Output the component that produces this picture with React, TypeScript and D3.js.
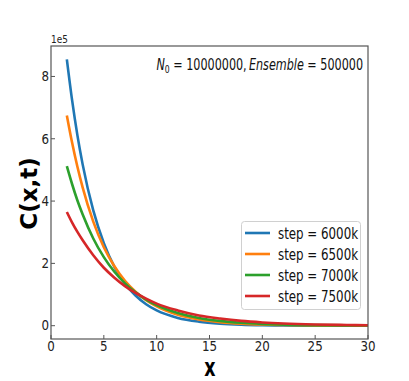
import * as d3 from 'd3';
import React, { useEffect, useRef } from 'react';

// x positions of the sampled points
const xs = [1.5, 2, 2.5, 3, 4, 5, 6, 7, 8, 9, 10, 12, 14, 16, 18, 20, 22, 25, 28, 30];

// C(x,t) values, in units of 1e5
const step6000k = [8.55, 7.23, 6.11, 5.17, 3.70, 2.65, 1.89, 1.35, 0.97, 0.69, 0.49, 0.25, 0.13, 0.067, 0.034, 0.017, 0.009, 0.003, 0.001, 0.0005];
const step6500k = [6.75, 5.87, 5.10, 4.43, 3.34, 2.52, 1.91, 1.44, 1.09, 0.82, 0.62, 0.35, 0.20, 0.114, 0.065, 0.037, 0.021, 0.009, 0.004, 0.002];
const step7000k = [5.12, 4.54, 4.02, 3.57, 2.80, 2.20, 1.73, 1.36, 1.07, 0.84, 0.66, 0.41, 0.25, 0.156, 0.096, 0.059, 0.036, 0.018, 0.009, 0.005];
const step7500k = [3.65, 3.31, 3.01, 2.74, 2.26, 1.86, 1.54, 1.27, 1.05, 0.87, 0.71, 0.49, 0.33, 0.23, 0.154, 0.105, 0.071, 0.040, 0.023, 0.015];

const seriesNames = ['step = 6000k', 'step = 6500k', 'step = 7000k', 'step = 7500k'];
const seriesValues = [step6000k, step6500k, step7000k, step7500k];
const colors = ['#1f77b4', '#ff7f0e', '#2ca02c', '#d62728'];

const xTicks = [0, 5, 10, 15, 20, 25, 30];
const yTicks = [0, 2, 4, 6, 8];

const width = 409, height = 381;
const plot = { left: 51, right: 368, top: 46, bottom: 339 };
const font = 'DejaVu Sans, sans-serif';

const App = () => {
  const ref = useRef<SVGSVGElement>(null);

  useEffect(() => {
    const svg = d3.select(ref.current);
    svg.selectAll('*').remove();

    const x = d3.scaleLinear().domain([0, 30]).range([plot.left, plot.right]);

    // matplotlib style 5% margins on y
    const all = seriesValues.flat();
    const lo = d3.min(all)!, hi = d3.max(all)!;
    const pad = (hi - lo) * 0.05;
    const y = d3.scaleLinear().domain([lo - pad, hi + pad]).range([plot.bottom, plot.top]);

    const line = d3.line<number>()
      .x((_, i) => x(xs[i]))
      .y(d => y(d))
      .curve(d3.curveMonotoneX);

    seriesValues.forEach((vals, i) => {
      svg.append('path')
        .attr('d', line(vals))
        .attr('fill', 'none')
        .attr('stroke', colors[i])
        .attr('stroke-width', 2.6);
    });

    // frame
    svg.append('rect')
      .attr('x', plot.left)
      .attr('y', plot.top)
      .attr('width', plot.right - plot.left)
      .attr('height', plot.bottom - plot.top)
      .attr('fill', 'none')
      .attr('stroke', '#555')
      .attr('stroke-width', 1.2);

    // x ticks (pointing in)
    xTicks.forEach(t => {
      svg.append('line')
        .attr('x1', x(t)).attr('x2', x(t))
        .attr('y1', plot.bottom).attr('y2', plot.bottom - 4)
        .attr('stroke', '#555');
      svg.append('text')
        .attr('transform', `translate(${x(t)},351) scale(0.88,1)`)
        .attr('text-anchor', 'middle')
        .attr('font-family', font)
        .attr('font-size', 13.5)
        .attr('fill', '#222')
        .text(t);
    });

    // y ticks (pointing in)
    yTicks.forEach(t => {
      svg.append('line')
        .attr('x1', plot.left).attr('x2', plot.left + 4)
        .attr('y1', y(t)).attr('y2', y(t))
        .attr('stroke', '#555');
      svg.append('text')
        .attr('transform', `translate(49,${y(t) + 4.8}) scale(0.88,1)`)
        .attr('text-anchor', 'end')
        .attr('font-family', font)
        .attr('font-size', 13.5)
        .attr('fill', '#222')
        .text(t);
    });

    svg.append('text')
      .attr('transform', `translate(${plot.left},42.5) scale(0.85,1)`)
      .attr('font-family', font)
      .attr('font-size', 10.5)
      .attr('fill', '#222')
      .text('1e5');

    // annotation
    const note = svg.append('text')
      .attr('transform', 'translate(363,70) scale(0.7,1)')
      .attr('text-anchor', 'end')
      .attr('font-family', font)
      .attr('font-size', 16)
      .attr('fill', '#111');
    note.append('tspan').attr('font-style', 'italic').text('N');
    note.append('tspan').attr('font-size', 11).attr('dy', 3).text('0');
    note.append('tspan').attr('dy', -3).text(' = 10000000,\u2009');
    note.append('tspan').attr('font-style', 'italic').text('Ensemble');
    note.append('tspan').text(' = 500000');

    // axis labels
    svg.append('text')
      .attr('transform', 'translate(37.3,193.5) rotate(-90)')
      .attr('text-anchor', 'middle')
      .attr('font-family', font)
      .attr('font-weight', 'bold')
      .attr('font-size', 23)
      .attr('fill', '#000')
      .text('C(x,t)');

    svg.append('text')
      .attr('transform', 'translate(210,376) scale(0.7,1)')
      .attr('text-anchor', 'middle')
      .attr('font-family', font)
      .attr('font-weight', 'bold')
      .attr('font-size', 25)
      .attr('fill', '#000')
      .text('x');

    // legend
    const lg = svg.append('g');
    lg.append('rect')
      .attr('x', 241.5).attr('y', 221.5)
      .attr('width', 119).attr('height', 88)
      .attr('rx', 3)
      .attr('fill', 'white')
      .attr('fill-opacity', 0.8)
      .attr('stroke', '#d0d0d0');
    seriesNames.forEach((name, i) => {
      const cy = 233 + i * 21;
      lg.append('line')
        .attr('x1', 245).attr('x2', 270)
        .attr('y1', cy).attr('y2', cy)
        .attr('stroke', colors[i])
        .attr('stroke-width', 2.6);
      lg.append('text')
        .attr('transform', `translate(278,${cy + 6}) scale(0.79,1)`)
        .attr('font-family', font)
        .attr('font-size', 15)
        .attr('fill', '#111')
        .text(name);
    });
  }, []);

  return (
    <svg
      ref={ref}
      width={width}
      height={height}
      style={{ position: 'absolute', left: 0, top: 0, background: 'white' }}
    />
  );
};

export default App;
